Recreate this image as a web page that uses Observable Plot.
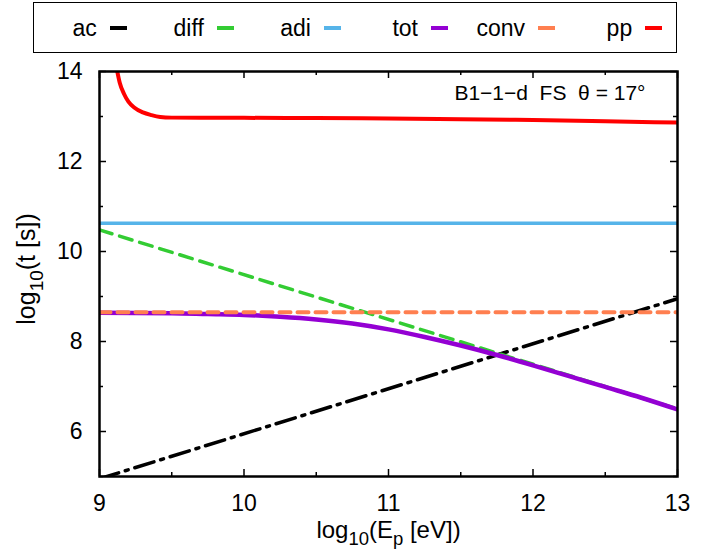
<!DOCTYPE html>
<html>
<head>
<meta charset="utf-8">
<script src="https://cdn.jsdelivr.net/npm/d3@7"></script>
<script src="https://cdn.jsdelivr.net/npm/@observablehq/plot@0.6"></script>
<style>
  html, body { margin: 0; padding: 0; background: white; }
  #wrap { position: relative; width: 718px; height: 557px; font-family: "Liberation Sans", Arial, sans-serif; }
  #legend { position: absolute; left: 33px; top: 2px; width: 642px; height: 49px; border: 1.5px solid black; background: white; }
  .lab { position: absolute; top: 1.3px; height: 49px; line-height: 49px; font-size: 23px; text-align: right; width: 70px; }
  .smp { position: absolute; width: 17px; height: 4px; top: 23px; }
</style>
</head>
<body>
<div id="wrap"></div>
<script>
// ---- data ----
const names  = ["ac", "diff", "adi", "tot", "conv", "pp"];
const colors = ["#000000", "#33cc33", "#56b4e9", "#9400d3", "#ff7f50", "#ff0000"];

const xEnds = [9, 13];
const acY   = [4.95, 8.95];
const diffY = [10.48, 6.50];
const adiY  = [10.63, 10.63];
const convY = [8.65, 8.65];

const totX = [9, 9.5, 9.75, 10, 10.25, 10.5, 10.75, 11, 11.25, 11.5, 11.75, 12, 12.25, 12.5, 12.75, 13];
const totY = [8.64, 8.63, 8.61, 8.59, 8.55, 8.49, 8.40, 8.27, 8.10, 7.91, 7.70, 7.47, 7.23, 6.99, 6.75, 6.49];

const ppX = [9.12, 9.14, 9.17, 9.2, 9.24, 9.3, 9.36, 9.42, 9.5, 9.7, 10, 10.5, 11, 11.5, 12, 12.5, 13];
const ppY = [14.05, 13.75, 13.5, 13.33, 13.2, 13.09, 13.03, 12.99, 12.975, 12.97, 12.97, 12.965, 12.955, 12.94, 12.92, 12.895, 12.865];

const xTickLabels = [9, 10, 11, 12, 13];
const xMinor = [9.5, 10.5, 11.5, 12.5];
const yTickLabels = [6, 8, 10, 12, 14];
const yMinor = [5, 7, 9, 11, 13];

const annotation = "B1\u22121\u2212d\u00a0\u00a0FS\u00a0\u00a0\u03b8 = 17\u00b0";
const xLabel = "log10(E_p [eV])";
const yLabel = "log10(t [s])";

// ---- build tables ----
const pts = (xs, ys) => xs.map((x, i) => ({x, y: ys[i]}));

const W = 718, H = 557, mL = 99, mR = 41, mT = 71, mB = 81;
const fw = W - mL - mR, fh = H - mT - mB;

const chart = Plot.plot({
  width: W, height: H,
  marginLeft: mL, marginRight: mR, marginTop: mT, marginBottom: mB,
  style: {fontFamily: '"Liberation Sans", Arial, sans-serif', fontSize: "23px", color: "black", background: "white"},
  x: {domain: [9, 13]},
  y: {domain: [5, 14]},
  marks: [
    Plot.line(pts(xEnds, acY), {x: "x", y: "y", stroke: colors[0], strokeWidth: 3.5, strokeDasharray: "20,7,3,7", clip: true}),
    Plot.line(pts(xEnds, diffY), {x: "x", y: "y", stroke: colors[1], strokeWidth: 3.5, strokeDasharray: "13,8", clip: true}),
    Plot.line(pts(xEnds, adiY), {x: "x", y: "y", stroke: colors[2], strokeWidth: 3.5, clip: true}),
    Plot.line(pts(totX, totY), {x: "x", y: "y", stroke: colors[3], strokeWidth: 4.5, curve: "monotone-x", clip: true}),
    Plot.line(pts(xEnds, convY), {x: "x", y: "y", stroke: colors[4], strokeWidth: 4, strokeDasharray: "11,7", clip: true}),
    Plot.line(pts(ppX, ppY), {x: "x", y: "y", stroke: colors[5], strokeWidth: 4, curve: "monotone-x", clip: true}),
    // inward ticks on all four sides
    Plot.tickX(xTickLabels, {x: d => d, insetTop: fh - 7, stroke: "black", strokeWidth: 1.5}),
    Plot.tickX(xTickLabels, {x: d => d, insetBottom: fh - 7, stroke: "black", strokeWidth: 1.5}),
    Plot.tickX(xMinor, {x: d => d, insetTop: fh - 4, stroke: "black", strokeWidth: 1.5}),
    Plot.tickX(xMinor, {x: d => d, insetBottom: fh - 4, stroke: "black", strokeWidth: 1.5}),
    Plot.tickY(yTickLabels, {y: d => d, insetRight: fw - 7, stroke: "black", strokeWidth: 1.5}),
    Plot.tickY(yTickLabels, {y: d => d, insetLeft: fw - 7, stroke: "black", strokeWidth: 1.5}),
    Plot.tickY(yMinor, {y: d => d, insetRight: fw - 4, stroke: "black", strokeWidth: 1.5}),
    Plot.tickY(yMinor, {y: d => d, insetLeft: fw - 4, stroke: "black", strokeWidth: 1.5}),
    Plot.axisX({ticks: xTickLabels, tickSize: 0, tickPadding: 18, fontSize: 23, tickFormat: d => String(d), label: null}),
    Plot.axisY({ticks: yTickLabels, tickSize: 0, tickPadding: 17, fontSize: 23, tickFormat: d => String(d), label: null}),
    Plot.frame({stroke: "black", strokeWidth: 2.5}),
    Plot.text([annotation], {text: d => d, frameAnchor: "top-right", textAnchor: "end", lineAnchor: "top", dx: -32, dy: 13.4, fontSize: 21}),
    Plot.text([xLabel], {text: d => d, frameAnchor: "bottom", lineAnchor: "middle", textAnchor: "middle", dy: 53.5, fontSize: 24}),
    Plot.text([yLabel], {text: d => d, frameAnchor: "left", rotate: -90, lineAnchor: "middle", textAnchor: "middle", dx: -73, dy: -5, fontSize: 25})
  ]
});

const wrap = document.getElementById("wrap");
wrap.appendChild(chart);

// subscripts in axis labels
function subscriptify(label, parts, size, shift) {
  d3.select(chart).selectAll("text").filter(function() { return this.textContent === label; }).each(function() {
    const t = d3.select(this);
    t.text("");
    let shifted = false;
    parts.forEach(([s, sub]) => {
      const ts = t.append("tspan").text(s);
      if (sub && !shifted) { ts.attr("dy", shift).attr("font-size", size); shifted = true; }
      else if (!sub && shifted) { ts.attr("dy", -shift); shifted = false; }
    });
  });
}
subscriptify(yLabel, [["log", false], ["10", true], ["(t [s])", false]], 19, 8);
subscriptify(xLabel, [["log", false], ["10", true], ["(E", false], ["p", true], ["\u00a0[eV])", false]], 18.5, 7.5);

// legend
const legend = d3.select(wrap).append("div").attr("id", "legend");
names.forEach((n, i) => {
  const step = 107.1;
  legend.append("div").attr("class", "lab").style("left", (97.2 - 34.5 - 70 + step * i) + "px").text(n);
  legend.append("div").attr("class", "smp").style("left", (110 - 34.5 + step * i) + "px").style("background", colors[i]);
});
</script>
</body>
</html>
